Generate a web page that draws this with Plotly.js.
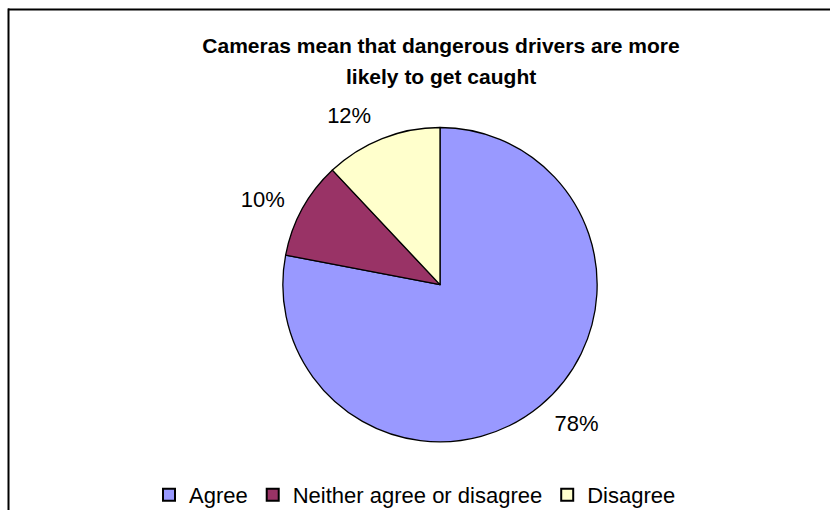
<!DOCTYPE html>
<html>
<head>
<meta charset="utf-8">
<script src="https://cdn.plot.ly/plotly-3.0.1.min.js"></script>
<style>html,body{margin:0;padding:0;background:#fff;}#chart{width:830px;height:516px;}</style>
</head>
<body>
<div id="chart"></div>
<script>
var categories = ["Agree", "Neither agree or disagree", "Disagree"];
var values = [78, 10, 12];
var labels = ["78%", "10%", "12%"];
var colors = ["#9999FF", "#993366", "#FFFFCC"];
var titleLines = ["Cameras mean that dangerous drivers are more", "likely to get caught"];

var W = 830, H = 516;
var cx = 440, cy = 288, r = 159, rLabel = 172;
var FONT = "Liberation Sans, Arial, sans-serif";

function dom(rad) {
  return {x: [(cx - rad) / W, (cx + rad) / W], y: [(H - cy - rad) / H, (H - cy + rad) / H]};
}

var pie = {
  type: "pie",
  labels: categories,
  values: values,
  textinfo: "none",
  sort: false,
  direction: "clockwise",
  rotation: 0,
  marker: {colors: colors, line: {color: "#000000", width: 1.3}},
  domain: dom(r),
  hoverinfo: "none"
};

var labelRing = {
  type: "pie",
  labels: categories,
  values: values,
  text: labels,
  textinfo: "text",
  textposition: "outside",
  sort: false,
  direction: "clockwise",
  rotation: 0,
  showlegend: false,
  marker: {colors: ["rgba(0,0,0,0)", "rgba(0,0,0,0)", "rgba(0,0,0,0)"], line: {width: 0}},
  textfont: {family: FONT, size: 22, color: "#000"},
  domain: dom(rLabel),
  hoverinfo: "none"
};

var layout = {
  width: W, height: H,
  margin: {l: 0, r: 0, t: 0, b: 0},
  paper_bgcolor: "#ffffff",
  showlegend: true,
  title: {
    text: "<b>" + titleLines[0] + "</b>",
    font: {family: FONT, size: 21, color: "#000"},
    x: 441 / W, xanchor: "center",
    y: 1 - 46 / H, yanchor: "middle", yref: "container"
  },
  annotations: [{
    text: "<b>" + titleLines[1] + "</b>",
    font: {family: FONT, size: 21, color: "#000"},
    xref: "paper", yref: "paper", x: 441 / W, xanchor: "center",
    y: 1 - 77 / H, yanchor: "middle", showarrow: false
  }],
  legend: {
    orientation: "h",
    x: 415 / W, xanchor: "center",
    y: 1 - 480 / H, yanchor: "top",
    font: {family: FONT, size: 22, color: "#000"},
    itemsizing: "constant"
  },
  shapes: [
    {type: "line", xref: "paper", yref: "paper", x0: 8.5 / W, x1: 8.5 / W, y0: 0, y1: 1 - 8.5 / H, line: {color: "#000", width: 2}},
    {type: "line", xref: "paper", yref: "paper", x0: 8 / W, x1: 1, y0: 1 - 9.5 / H, y1: 1 - 9.5 / H, line: {color: "#000", width: 2}}
  ]
};

Plotly.newPlot("chart", [pie, labelRing], layout, {displayModeBar: false, staticPlot: true});
</script>
</body>
</html>
